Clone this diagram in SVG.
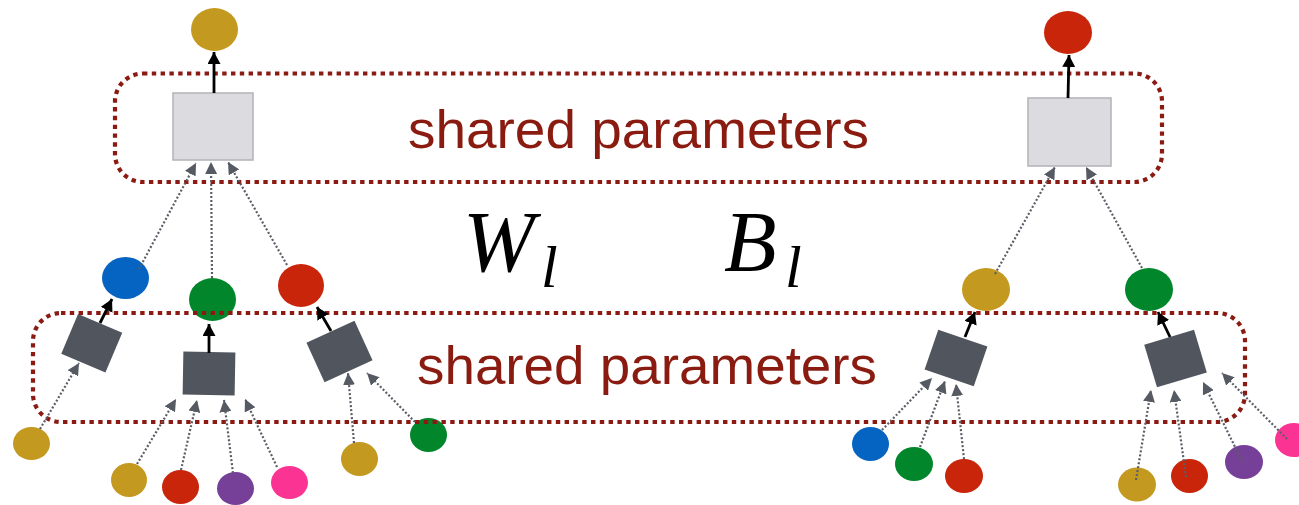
<svg xmlns="http://www.w3.org/2000/svg" width="1299" height="505" viewBox="0 0 1299 505">
<style>
.gold{fill:#c4991f}.blue{fill:#0563c1}.green{fill:#02862b}.red{fill:#c8250a}.purple{fill:#763f98}.pink{fill:#fb3494}
.light{fill:#dcdce0;stroke:#b2b2b8;stroke-width:1.5}
.dark{fill:#51555e}
.shared{fill:none;stroke:#8b1a12;stroke-width:4.2;stroke-dasharray:4.4 4.4}
.label{font-family:"Liberation Sans",Arial,sans-serif;font-size:54px;fill:#8a1b10}
.math{font-family:"Liberation Serif","Times New Roman",serif;font-style:italic;fill:#000}
.dot{stroke:#5a5e66;stroke-width:2.2;stroke-dasharray:2 2;fill:none;marker-end:url(#gh)}
.solid{stroke:#000;stroke-width:2.8;fill:none;marker-end:url(#bh)}
</style>
<defs>
<marker id="gh" markerUnits="userSpaceOnUse" markerWidth="14" markerHeight="12" refX="12" refY="6" orient="auto" viewBox="0 0 14 12">
<path d="M0,0 L12,6 L0,12 z" fill="#565a63"/>
</marker>
<marker id="bh" markerUnits="userSpaceOnUse" markerWidth="14" markerHeight="14" refX="12" refY="6.5" orient="auto" viewBox="0 0 14 14">
<path d="M0,0 L12,6.5 L0,13 z" fill="#000"/>
</marker>
</defs>
<rect width="1299" height="505" fill="#fff"/>

<!-- top layer nodes -->
<g id="out-left"><ellipse class="gold" cx="214.5" cy="29.5" rx="23.5" ry="21.5"/></g>
<g id="out-right"><ellipse class="red" cx="1068" cy="32.5" rx="24" ry="21.5"/></g>
<g id="top-box-left"><rect class="light" x="173" y="93" width="80" height="67"/></g>
<g id="top-box-right"><rect class="light" x="1028" y="98" width="83" height="68"/></g>

<!-- middle nodes -->
<g id="mid-blue"><ellipse class="blue" cx="125.5" cy="278" rx="23.5" ry="21"/></g>
<g id="mid-green"><ellipse class="green" cx="212.5" cy="299.5" rx="23.5" ry="21.5"/></g>
<g id="mid-red"><ellipse class="red" cx="301" cy="285.5" rx="23" ry="21.5"/></g>
<g id="mid-gold-r"><ellipse class="gold" cx="986" cy="289.5" rx="24" ry="21.5"/></g>
<g id="mid-green-r"><ellipse class="green" cx="1149" cy="289.5" rx="24" ry="21.5"/></g>

<!-- lower squares -->
<g id="sq1"><rect class="dark" x="-24" y="-21.5" width="48" height="43" transform="translate(91.75 343.25) rotate(23)"/></g>
<g id="sq2"><rect class="dark" x="-26" y="-21.5" width="52" height="43" transform="translate(209 373.5) rotate(1)"/></g>
<g id="sq3"><rect class="dark" x="-26.4" y="-21.7" width="52.8" height="43.4" transform="translate(339.5 351.5) rotate(-24.6)"/></g>
<g id="sq4"><rect class="dark" x="-26" y="-21" width="52" height="42" transform="translate(956 358) rotate(19)"/></g>
<g id="sq5"><rect class="dark" x="-26" y="-22.2" width="52" height="44.5" transform="translate(1175.5 358.5) rotate(-16.7)"/></g>

<!-- input leaves -->
<g id="in1"><ellipse class="gold" cx="31.5" cy="443.5" rx="18.5" ry="16.5"/></g>
<g id="in2"><ellipse class="gold" cx="129" cy="480" rx="18" ry="17"/></g>
<g id="in3"><ellipse class="red" cx="180.5" cy="487" rx="18.5" ry="17"/></g>
<g id="in4"><ellipse class="purple" cx="235.5" cy="488.5" rx="18.5" ry="16.5"/></g>
<g id="in5"><ellipse class="pink" cx="289.5" cy="482.5" rx="18.5" ry="16.5"/></g>
<g id="in6"><ellipse class="gold" cx="359.5" cy="459" rx="18.5" ry="17"/></g>
<g id="in7"><ellipse class="green" cx="428.5" cy="435" rx="18.5" ry="17"/></g>
<g id="in8"><ellipse class="blue" cx="870.5" cy="444" rx="18.5" ry="17"/></g>
<g id="in9"><ellipse class="green" cx="914" cy="464" rx="19" ry="17"/></g>
<g id="in10"><ellipse class="red" cx="964" cy="476" rx="19" ry="17"/></g>
<g id="in11"><ellipse class="gold" cx="1137" cy="484.5" rx="19" ry="17"/></g>
<g id="in12"><ellipse class="red" cx="1189.5" cy="476" rx="18.5" ry="17"/></g>
<g id="in13"><ellipse class="purple" cx="1244" cy="462" rx="19" ry="17"/></g>
<g id="in14"><ellipse class="pink" cx="1294" cy="440" rx="19" ry="17"/></g>

<!-- shared parameter groups -->
<g id="shared-top">
<rect class="shared" x="115" y="73.5" width="1047" height="108.5" rx="28" ry="28"/>
<text class="label" x="408" y="148" textLength="461" lengthAdjust="spacingAndGlyphs">shared parameters</text>
</g>
<g id="shared-bottom">
<rect class="shared" x="33" y="313" width="1212" height="109" rx="28" ry="28"/>
<text class="label" x="417" y="384" textLength="460" lengthAdjust="spacingAndGlyphs">shared parameters</text>
</g>

<g id="symbols">
<text class="math" x="463" y="271" font-size="86">W</text>
<text class="math" x="541" y="287" font-size="60">l</text>
<text class="math" x="724" y="271" font-size="86">B</text>
<text class="math" x="785" y="287" font-size="60">l</text>
</g>

<g id="connectors">
<line class="dot" x1="139" y1="269" x2="196" y2="163"/>
<line class="dot" x1="212" y1="278" x2="211" y2="162"/>
<line class="dot" x1="287" y1="265" x2="228" y2="162"/>
<line class="dot" x1="995" y1="274" x2="1055" y2="167"/>
<line class="dot" x1="1142" y1="268" x2="1086" y2="167"/>
<line class="dot" x1="40" y1="429" x2="79" y2="363"/>
<line class="dot" x1="137" y1="464" x2="176" y2="399"/>
<line class="dot" x1="181" y1="470" x2="197" y2="400"/>
<line class="dot" x1="233" y1="473" x2="224" y2="400"/>
<line class="dot" x1="277" y1="467" x2="245" y2="399"/>
<line class="dot" x1="354" y1="443" x2="348" y2="373"/>
<line class="dot" x1="415" y1="422" x2="367" y2="373"/>
<line class="dot" x1="882" y1="430" x2="932" y2="378"/>
<line class="dot" x1="920" y1="447" x2="945" y2="381"/>
<line class="dot" x1="964" y1="459" x2="956" y2="384"/>
<line class="dot" x1="1136" y1="480" x2="1151" y2="390"/>
<line class="dot" x1="1186" y1="477" x2="1174" y2="390"/>
<line class="dot" x1="1242" y1="461" x2="1203" y2="382"/>
<line class="dot" x1="1287" y1="439" x2="1222" y2="373"/>
<line class="solid" x1="214" y1="93" x2="214" y2="52"/>
<line class="solid" x1="1068" y1="98" x2="1069" y2="55"/>
<line class="solid" x1="100" y1="323" x2="112" y2="299"/>
<line class="solid" x1="209" y1="353" x2="209" y2="324"/>
<line class="solid" x1="331" y1="331" x2="317" y2="307"/>
<line class="solid" x1="965" y1="337" x2="975" y2="312"/>
<line class="solid" x1="1170" y1="337" x2="1158" y2="312"/>
</g>
</svg>
